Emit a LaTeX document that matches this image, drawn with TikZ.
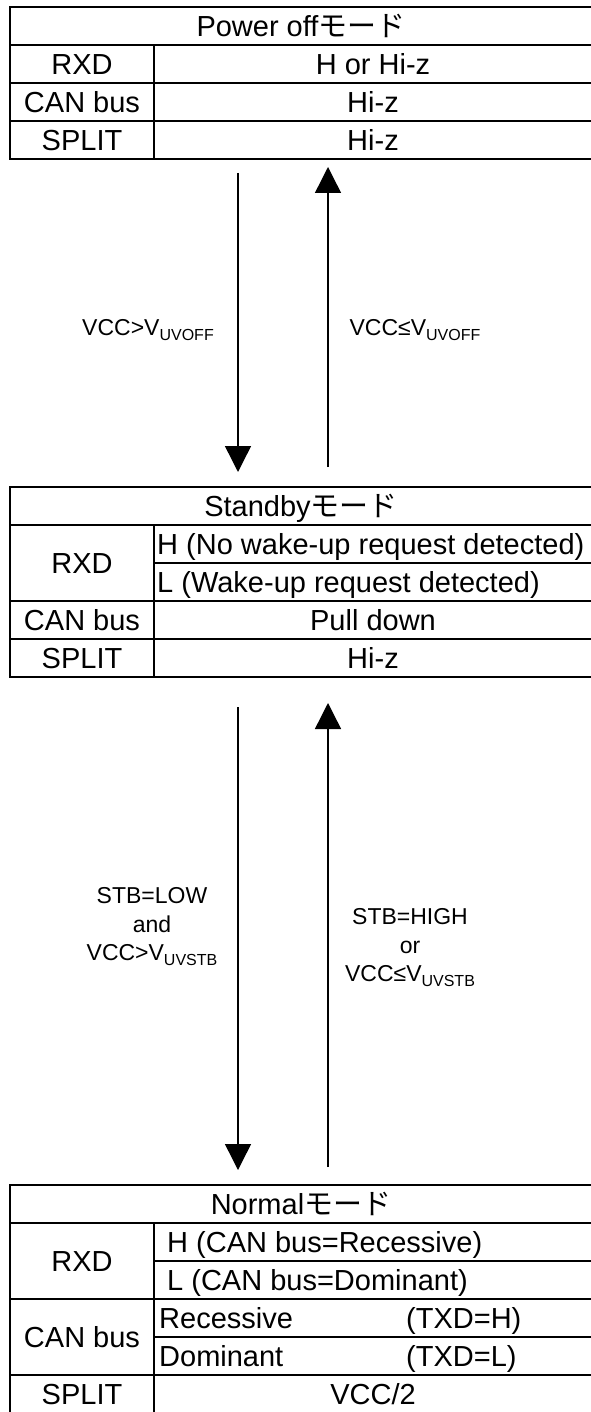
\documentclass[tikz,border=0pt]{standalone}
\usepackage{fontspec}
\setmainfont{Liberation Sans}
\newfontfamily\jpfont{Noto Sans CJK JP}
\usetikzlibrary{arrows.meta}
\newcommand\lsub[1]{\raisebox{-0.22em}{\fontsize{16}{16}\selectfont #1}}
\newcommand\mode{{\jpfont モード}}
\tikzset{
  tl/.style={line width=2pt, line cap=rect},
  cell/.style={inner sep=0pt, anchor=base, font=\fontsize{29}{30}\selectfont},
  lcell/.style={cell, anchor=base west},
  lbl/.style={inner sep=0pt, align=center, font=\fontsize{23}{28.5}\selectfont},
  trans/.style={line width=1.4pt, -{Triangle[width=26pt,length=26pt]}}
}
\begin{document}
\begin{tikzpicture}[x=1pt,y=-1pt]
\useasboundingbox (0,0) rectangle (590,1412);
% ---------- Table 1: Power off ----------
\draw[tl] (10,7) -- (600,7);
\foreach \y in {45,83,121,159} \draw[tl] (10,\y) -- (600,\y);
\draw[tl] (10,7) -- (10,159);
\draw[tl] (154,45) -- (154,159);
\node[cell] (t1) at (301,36.5) {Power off\mode};
\node[cell] (t1a) at (82,74.5) {RXD};
\node[cell] (t1b) at (373,74.5) {H or Hi-z};
\node[cell] (t1c) at (82,112.5) {CAN bus};
\node[cell] (t1d) at (373,112.5) {Hi-z};
\node[cell] (t1e) at (82,150.5) {SPLIT};
\node[cell] (t1f) at (373,150.5) {Hi-z};
% ---------- Table 2: Standby ----------
\foreach \y in {487,525,601,639,677} \draw[tl] (10,\y) -- (600,\y);
\draw[tl] (154,563) -- (600,563);
\draw[tl] (10,487) -- (10,677);
\draw[tl] (154,525) -- (154,677);
\node[cell] (t2) at (301,516.5) {Standby\mode};
\node[cell] (t2a) at (82,573.5) {RXD};
\node[lcell] (t2b) at (157,554.5) {H (No wake-up request detected)};
\node[lcell] (t2c) at (157,592.5) {L (Wake-up request detected)};
\node[cell] (t2d) at (82,630.5) {CAN bus};
\node[cell] (t2e) at (373,630.5) {Pull down};
\node[cell] (t2f) at (82,668.5) {SPLIT};
\node[cell] (t2g) at (373,668.5) {Hi-z};
% ---------- Table 3: Normal ----------
\foreach \y in {1185,1223,1299,1375,1413} \draw[tl] (10,\y) -- (600,\y);
\draw[tl] (154,1261) -- (600,1261);
\draw[tl] (154,1337) -- (600,1337);
\draw[tl] (10,1185) -- (10,1420);
\draw[tl] (154,1223) -- (154,1420);
\node[cell] (t3) at (301,1214.5) {Normal\mode};
\node[cell] (t3a) at (82,1271.5) {RXD};
\node[lcell] (t3b) at (167,1252.5) {H (CAN bus=Recessive)};
\node[lcell] (t3c) at (167,1290.5) {L (CAN bus=Dominant)};
\node[cell] (t3d) at (82,1347.5) {CAN bus};
\node[lcell] (t3e) at (159,1328.5) {Recessive};
\node[lcell] (t3f) at (406,1328.5) {(TXD=H)};
\node[lcell] (t3g) at (159,1366.5) {Dominant};
\node[lcell] (t3h) at (406,1366.5) {(TXD=L)};
\node[cell] (t3i) at (82,1404.5) {SPLIT};
\node[cell] (t3j) at (373,1404.5) {VCC/2};
% ---------- transitions ----------
\coordinate (d1s) at (238,173);  \coordinate (d1e) at (238,472);
\coordinate (u1s) at (328,467);  \coordinate (u1e) at (328,167);
\coordinate (d2s) at (238,707);  \coordinate (d2e) at (238,1170);
\coordinate (u2s) at (328,1167); \coordinate (u2e) at (328,703);
\draw[trans] (d1s) -- (d1e);
\draw[trans] (u1s) -- (u1e);
\draw[trans] (d2s) -- (d2e);
\draw[trans] (u2s) -- (u2e);
\node[lbl] (l1) at (148,330) {VCC>V\lsub{UVOFF}};
\node[lbl] (l2) at (415,330) {VCC≤V\lsub{UVOFF}};
\node[lbl] (l3) at (152,927) {STB=LOW\\and\\VCC>V\lsub{UVSTB}};
\node[lbl] (l4) at (410,948) {STB=HIGH\\or\\VCC≤V\lsub{UVSTB}};
\end{tikzpicture}
\end{document}
